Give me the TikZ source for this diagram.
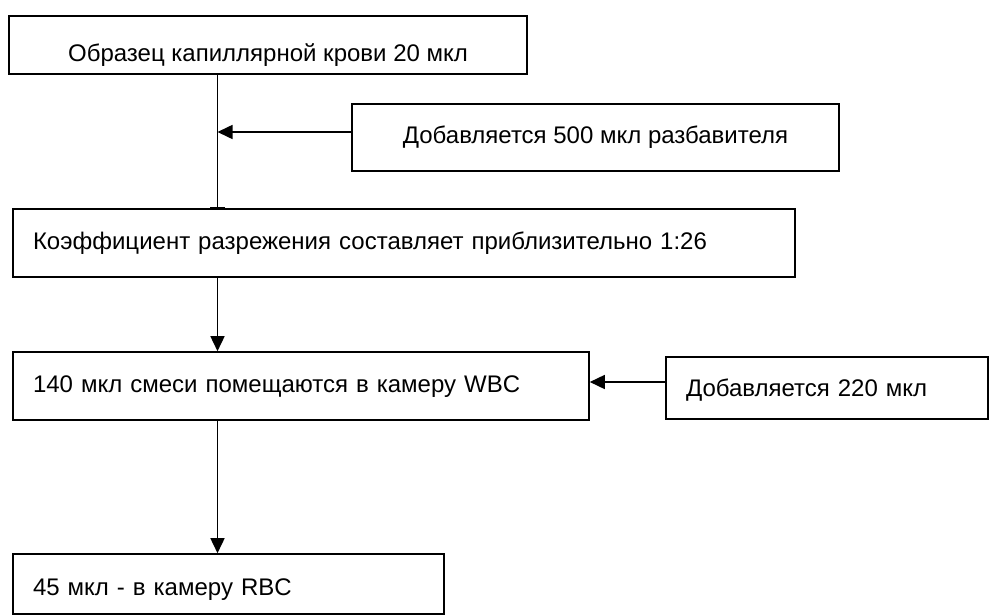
\documentclass[tikz,border=0pt]{standalone}
\usepackage{fontspec}
\setmainfont{Liberation Sans}
\usetikzlibrary{arrows.meta}

\begin{document}
\begin{tikzpicture}[x=0.5pt, y=-0.5pt, line width=0.8pt,
    stage/.style = {draw, rectangle,
        inner xsep=10pt, inner ysep=0pt,
        text height=8.5pt, text depth=2.5pt,
        font=\fontsize{12}{14}\selectfont},
    link/.style = {-{Triangle[length=7.5pt,width=7pt]}}]

\useasboundingbox (0,0) rectangle (989,615);

% Sample
\node[stage, minimum width=259pt, minimum height=29pt, text height=19.5pt] (sample) at (268,45) {Образец капиллярной крови 20 мкл};

% Diluent
\node[stage, minimum width=243.5pt, minimum height=33.5pt] (diluent) at (595.5,137.5) {Добавляется 500 мкл разбавителя};

% Dilution ratio
\node[stage, text width=371pt, minimum height=34pt, align=left] (ratio) at (404,243) {Коэффициент разрежения составляет приблизительно 1:26};

% WBC chamber
\node[stage, text width=268pt, minimum height=34pt, align=left] (wbc) at (301,386) {140 мкл смеси помещаются в камеру WBC};

% Lyse
\node[stage, text width=141pt, minimum height=31pt, align=left, text height=10.5pt] (lyse) at (827,388) {Добавляется 220 мкл};

% RBC chamber
\node[stage, text width=195.5pt, minimum height=30pt, align=left, text height=13.5pt] (rbc) at (228.5,584) {45 мкл - в камеру RBC};

% Connectors
\coordinate (join) at (217.5,132);
\draw[-{Bar[width=7.5pt]}] (sample.south -| join) -- (ratio.north -| join);
\draw[link] (diluent.west |- join) -- (join);
\draw[link] (ratio.south -| join) -- (wbc.north -| join);
\draw[link] ([yshift=3pt]lyse.west) -- ([yshift=3pt]lyse.west -| wbc.east);
\draw[link] (wbc.south -| join) -- (rbc.north -| join);
\end{tikzpicture}
\end{document}
